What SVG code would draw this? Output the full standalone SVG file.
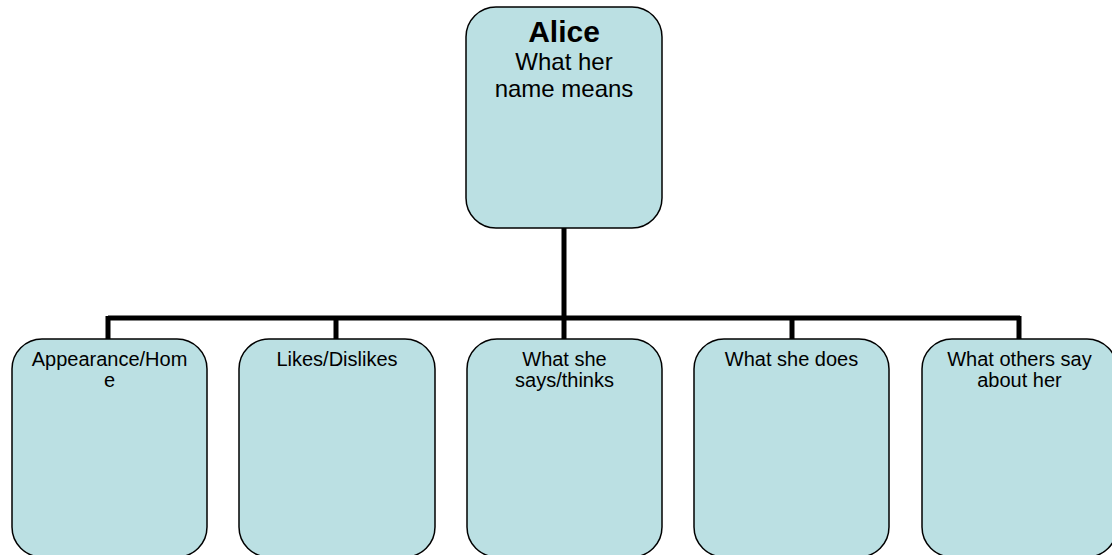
<svg xmlns="http://www.w3.org/2000/svg" width="1112" height="555" viewBox="0 0 1112 555">
<style>
.box{fill:#BBE0E3;stroke:#000;stroke-width:1.5}
.conn{fill:none;stroke:#000;stroke-width:5}
text{font-family:"Liberation Sans",Arial,sans-serif;fill:#000;text-anchor:middle}
.t{font-size:24px}
.b{font-size:30px;font-weight:bold}
.c{font-size:20px}
</style>
<rect width="1112" height="555" fill="#fff"/>
<g id="connectors">
<path class="conn" d="M564 228V318M108 318H1020M108 316V340M336 316V340M564 316V340M792 316V340M1019 316V340"/>
</g>
<g id="alice">
<rect class="box" x="466" y="7" width="196" height="221" rx="30"/>
<text class="b" x="564" y="42">Alice</text>
<text class="t" x="564" y="70">What her</text>
<text class="t" x="564" y="97">name means</text>
</g>
<g id="appearance">
<rect class="box" x="12" y="339" width="195" height="218" rx="30"/>
<text class="c" x="109.5" y="366">Appearance/Hom</text>
<text class="c" x="109.5" y="387">e</text>
</g>
<g id="likes">
<rect class="box" x="239" y="339" width="196" height="218" rx="30"/>
<text class="c" x="337" y="366">Likes/Dislikes</text>
</g>
<g id="says">
<rect class="box" x="467" y="339" width="195" height="218" rx="30"/>
<text class="c" x="564.5" y="366">What she</text>
<text class="c" x="564.5" y="387">says/thinks</text>
</g>
<g id="does">
<rect class="box" x="694" y="339" width="195" height="218" rx="30"/>
<text class="c" x="791.5" y="366">What she does</text>
</g>
<g id="others">
<rect class="box" x="922" y="339" width="195" height="218" rx="30"/>
<text class="c" x="1019.5" y="366">What others say</text>
<text class="c" x="1019.5" y="387">about her</text>
</g>
</svg>
